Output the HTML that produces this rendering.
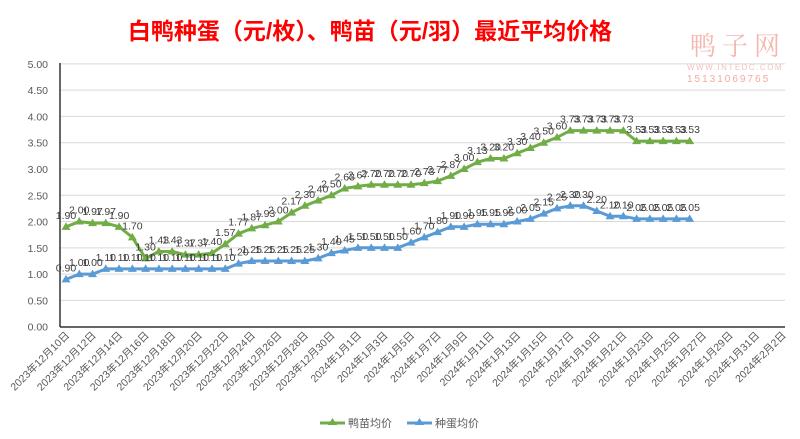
<!DOCTYPE html>
<html><head><meta charset="utf-8"><style>
html,body{margin:0;padding:0;background:#fff;width:800px;height:439px;overflow:hidden}
svg{display:block;font-family:"Liberation Sans","Noto Sans CJK SC",sans-serif}
</style></head><body>
<svg id="c" width="800" height="439" viewBox="0 0 800 439" xmlns="http://www.w3.org/2000/svg">
<text x="370" y="39" text-anchor="middle" font-size="23" font-weight="bold" fill="#ff0000" font-family="Liberation Sans,Noto Sans CJK SC,sans-serif">白鸭种蛋（元/枚）、鸭苗（元/羽）最近平均价格</text>
<text x="690" y="55" font-size="26" fill="#f4b8b0" font-family="Noto Serif CJK SC,Noto Sans CJK SC,serif" letter-spacing="6">鸭子网</text>
<text x="687" y="70" font-size="8" fill="#f4c0b8" letter-spacing="1.5">WWW.INTEDC.COM</text>
<text x="687" y="82" font-size="10" fill="#f4a8a0" letter-spacing="2">15131069765</text>
<g id="g"></g>
<g font-size="11" fill="#595959">
<line x1="320" y1="423" x2="345" y2="423" stroke="#70ad47" stroke-width="3"/><polygon points="332.5,418 328,425 337,425" fill="#70ad47"/>
<text x="348" y="427">鸭苗均价</text>
<line x1="407" y1="423" x2="432" y2="423" stroke="#5b9bd5" stroke-width="3"/><polygon points="419.5,418 415,425 424,425" fill="#5b9bd5"/>
<text x="435" y="427">种蛋均价</text>
</g>
</svg>
<script>
var ns="http://www.w3.org/2000/svg",g=document.getElementById("g");
function el(t,a,txt){var e=document.createElementNS(ns,t);for(var k in a)e.setAttribute(k,a[k]);if(txt!=null)e.textContent=txt;g.appendChild(e);return e;}
function X(d){return 66+13.27*d}function Y(v){return 326.7-52.57*v}
for(var i=0;i<=10;i++){var v=i*0.5,y=Y(v);
 if(i>0)el("line",{x1:60,x2:785,y1:y,y2:y,stroke:"#d9d9d9","stroke-width":1});
 el("text",{x:48,y:y+4,"text-anchor":"end","font-size":"10.5",fill:"#595959"},v.toFixed(2));}
el("line",{x1:60,x2:60,y1:63,y2:327,stroke:"#333","stroke-width":1.5});
el("line",{x1:60,x2:785,y1:327,y2:327,stroke:"#333","stroke-width":1.5});
var s=new Date(2023,11,10);
for(var d=0;d<=54;d+=2){var dt=new Date(s.getTime()+d*864e5);
 var lab=dt.getFullYear()+"年"+(dt.getMonth()+1)+"月"+dt.getDate()+"日";
 var x=X(d)+4,y=336;
 el("text",{x:x,y:y,"text-anchor":"end","font-size":"10.5",fill:"#595959",transform:"rotate(-45 "+x+" "+y+")"},lab);}
var G=[1.90,2.00,1.97,1.97,1.90,1.70,1.30,1.43,1.43,1.37,1.37,1.40,1.57,1.77,1.87,1.93,2.00,2.17,2.30,2.40,2.50,2.63,2.67,2.70,2.70,2.70,2.70,2.73,2.77,2.87,3.00,3.13,3.20,3.20,3.30,3.40,3.50,3.60,3.73,3.73,3.73,3.73,3.73,3.53,3.53,3.53,3.53,3.53];
var B=[0.90,1.00,1.00];for(i=3;i<=12;i++)B.push(1.10);B.push(1.20);for(i=14;i<=18;i++)B.push(1.25);
B=B.concat([1.30,1.40,1.45,1.50,1.50,1.50,1.50,1.60,1.70,1.80,1.90,1.90,1.95,1.95,1.95,2.00,2.05,2.15,2.25,2.30,2.30,2.20,2.10,2.10,2.05,2.05,2.05,2.05,2.05]);
function ser(a,c){var p=a.map(function(v,i){return X(i).toFixed(1)+","+Y(v).toFixed(1)}).join(" ");
 el("polyline",{points:p,fill:"none",stroke:c,"stroke-width":3,"stroke-linejoin":"round"});
 a.forEach(function(v,i){var x=X(i),y=Y(v);el("polygon",{points:x+","+(y-4.5)+" "+(x-4.5)+","+(y+3)+" "+(x+4.5)+","+(y+3),fill:c});});
 a.forEach(function(v,i){el("text",{x:X(i),y:Y(v)-8,"text-anchor":"middle","font-size":"10.5",fill:"#404040"},v.toFixed(2));});}
ser(G,"#70ad47");ser(B,"#5b9bd5");
</script>
</body></html>
